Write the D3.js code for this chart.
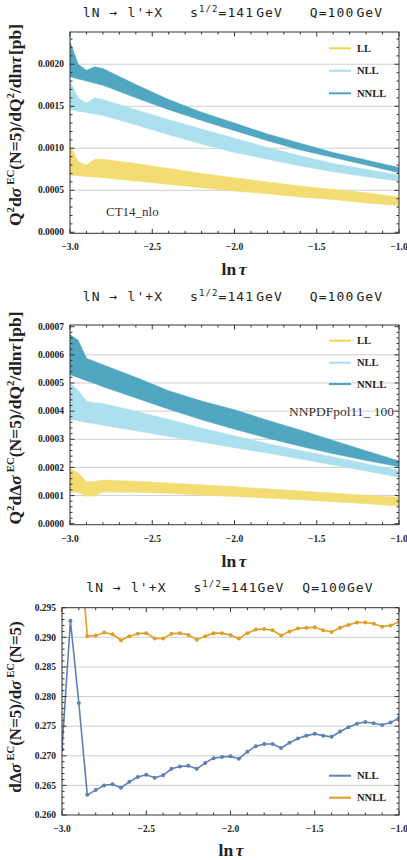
<!DOCTYPE html>
<html><head><meta charset="utf-8">
<script src="https://cdn.jsdelivr.net/npm/d3@7"></script>
<style>body{margin:0;background:#fff}svg{display:block}</style>
</head><body>
<script>
// ---------- data ----------
const xBand = [-3.0,-2.95,-2.9,-2.85,-2.8,-2.6,-2.4,-2.2,-2.0,-1.8,-1.6,-1.4,-1.2,-1.0];
// panel 1 (CT14_nlo)
const llLo1   = [0.00068,0.000672,0.000665,0.000657,0.00065,0.00061,0.00057,0.00053,0.00049,0.00046,0.00042,0.00039,0.00035,0.00032];
const llHi1   = [0.00104,0.00084,0.00080,0.00087,0.00087,0.00082,0.00076,0.00070,0.00065,0.00060,0.00055,0.00051,0.00047,0.00042];
const nllLo1  = [0.00146,0.001442,0.001425,0.001408,0.00139,0.00128,0.00116,0.00105,0.00095,0.00087,0.00079,0.00072,0.00066,0.00061];
const nllHi1  = [0.00180,0.00160,0.00154,0.00160,0.00158,0.00146,0.00134,0.00123,0.00112,0.00101,0.00091,0.00082,0.00075,0.00068];
const nnllLo1 = [0.00185,0.001825,0.0018,0.001775,0.00175,0.00160,0.00146,0.00133,0.00121,0.00109,0.00098,0.00089,0.00080,0.00071];
const nnllHi1 = [0.00227,0.00200,0.00193,0.00197,0.00195,0.00176,0.00158,0.00143,0.00130,0.00117,0.00106,0.00095,0.00086,0.00077];
// panel 2 (NNPDFpol11_100)
const llLo2   = [0.000113,0.000112,0.000098,0.000099,0.000113,0.000112,0.000108,0.000102,0.000097,0.000091,0.000085,0.000078,0.000071,0.000063];
const llHi2   = [0.000196,0.00018,0.000149,0.00015,0.000155,0.000151,0.000145,0.000138,0.000131,0.000124,0.000116,0.000109,0.000101,0.000094];
const nllLo2  = [0.00037,0.000365,0.00036,0.000355,0.00035,0.00033,0.00031,0.00029,0.00027,0.000251,0.00023,0.000209,0.000187,0.000165];
const nllHi2  = [0.0005,0.000474,0.000435,0.00043,0.000427,0.0004,0.00037,0.00034,0.000312,0.000285,0.00026,0.000237,0.000213,0.00019];
const nnllLo2 = [0.00053,0.000519,0.000508,0.000498,0.000487,0.000447,0.000407,0.000369,0.000336,0.000304,0.000275,0.000249,0.000225,0.000202];
const nnllHi2 = [0.000672,0.000652,0.000588,0.000576,0.000565,0.00052,0.000472,0.000436,0.000405,0.000368,0.000333,0.000296,0.000259,0.000223];
// panel 3 (ratio)
const xLine = [-3.0,-2.95,-2.9,-2.85,-2.8,-2.75,-2.7,-2.65,-2.6,-2.55,-2.5,-2.45,-2.4,-2.35,-2.3,-2.25,-2.2,-2.15,-2.1,-2.05,-2.0,-1.95,-1.9,-1.85,-1.8,-1.75,-1.7,-1.65,-1.6,-1.55,-1.5,-1.45,-1.4,-1.35,-1.3,-1.25,-1.2,-1.15,-1.1,-1.05,-1.0];
const nll3  = [0.2711,0.2928,0.2789,0.2634,0.2642,0.2650,0.2652,0.2646,0.2656,0.2664,0.2668,0.2663,0.2667,0.2678,0.2682,0.2683,0.2678,0.2688,0.2696,0.2698,0.2699,0.2695,0.2707,0.2716,0.2720,0.2720,0.2713,0.2722,0.2729,0.2734,0.2737,0.2734,0.2732,0.2741,0.2748,0.2754,0.2757,0.2755,0.2752,0.2756,0.2764];
const nnll3 = [0.335,0.325,0.3076,0.2902,0.2903,0.2908,0.2905,0.2895,0.2902,0.2906,0.2907,0.2898,0.2898,0.2906,0.2907,0.2904,0.2896,0.2902,0.2907,0.2907,0.2904,0.2898,0.2907,0.2913,0.2914,0.2912,0.2903,0.2910,0.2915,0.2916,0.2917,0.2912,0.2909,0.2916,0.2921,0.2925,0.2925,0.2923,0.2918,0.2920,0.2926];

const xTickVals = [-3.0,-2.5,-2.0,-1.5,-1.0];
const yTicks1 = [0,0.0005,0.0010,0.0015,0.0020];
const yTicks2 = [0,0.0001,0.0002,0.0003,0.0004,0.0005,0.0006,0.0007];
const yTicks3 = [0.260,0.265,0.270,0.275,0.280,0.285,0.290,0.295];
const bandNames = ["LL","NLL","NNLL"];
const lineNames = ["NLL","NNLL"];

// ---------- styles ----------
const bandFill = {LL:"#F3DC72", NLL:"#ADE0EE", NNLL:"#51A7C1"};
const bandLeg  = {LL:"#F5D452", NLL:"#A9DDEE", NNLL:"#4FA4BF"};
const lineCol  = {NLL:"#5E81B5", NNLL:"#E19C24"};
const SERIF = "'Liberation Serif','DejaVu Serif',serif";
const MONO = "'DejaVu Sans Mono',monospace";

const svg = d3.select("body").append("svg").attr("width",407).attr("height",860);

function rich(sel, parts, size){
  parts.forEach(p=>{
    const t = sel.append("tspan").text(p.t);
    if(p.it) t.attr("font-style","italic");
    if(p.sup){ t.attr("font-size", size*0.62).attr("dy", -size*0.42); }
    if(p.after){ t.attr("dy", size*0.42); }
    if(p.dx) t.attr("dx", p.dx);
  });
}
function supSeq(parts){
  const out=[];
  for(let i=0;i<parts.length;i++){
    const p = Object.assign({},parts[i]);
    if(i>0 && parts[i-1].sup && !p.sup) p.after=true;
    out.push(p);
  }
  return out;
}

function frame(g, x, y, gridVals, clipId){
  const [x0,x1]=x.range(); const [yb,yt]=y.range();
  g.append("g").selectAll("line").data(gridVals).join("line")
    .attr("x1",x0).attr("x2",x1).attr("y1",d=>y(d)).attr("y2",d=>y(d))
    .attr("stroke","#cfcfcf").attr("stroke-width",1);
  svg.append("defs").append("clipPath").attr("id",clipId).append("rect")
    .attr("x",x0).attr("y",yt).attr("width",x1-x0).attr("height",yb-yt);
}
function axes(g, x, y, yTicks, yMinorStep, fmtY){
  const [x0,x1]=x.range(); const [yb,yt]=y.range();
  const tc="#333";
  const ax = g.append("g");
  const xMin = d3.range(-3.0,-0.999,0.1).map(v=>+v.toFixed(2));
  xMin.forEach(v=>{
    const major = xTickVals.some(m=>Math.abs(m-v)<1e-6);
    const L = major?4.5:2.5;
    ax.append("line").attr("x1",x(v)).attr("x2",x(v)).attr("y1",yb).attr("y2",yb-L).attr("stroke",tc);
    ax.append("line").attr("x1",x(v)).attr("x2",x(v)).attr("y1",yt).attr("y2",yt+L).attr("stroke",tc);
  });
  const d1=y.domain()[1];
  const lo = yTicks[0];
  for(let k=0;;k++){
    const v = lo + k*yMinorStep;
    if(v>d1+1e-12) break;
    const major = yTicks.some(m=>Math.abs(m-v)<yMinorStep*0.01);
    const L = major?4.5:2.5;
    ax.append("line").attr("y1",y(v)).attr("y2",y(v)).attr("x1",x0).attr("x2",x0+L).attr("stroke",tc);
    ax.append("line").attr("y1",y(v)).attr("y2",y(v)).attr("x1",x1).attr("x2",x1-L).attr("stroke",tc);
  }
  ax.append("rect").attr("x",x0).attr("y",yt).attr("width",x1-x0).attr("height",yb-yt)
    .attr("fill","none").attr("stroke",tc).attr("stroke-width",1);
  ax.selectAll("text.xt").data(xTickVals).join("text")
    .attr("x",d=>x(d)).attr("y",yb+17).attr("text-anchor","middle")
    .attr("font-family",SERIF).attr("font-weight","bold").attr("font-size",9.5).attr("fill","#222")
    .text(d=>d3.format(".1f")(d).replace("-","\u2212"));
  ax.selectAll("text.yt").data(yTicks).join("text")
    .attr("x",x0-6).attr("y",d=>y(d)+3.2).attr("text-anchor","end")
    .attr("font-family",SERIF).attr("font-weight","bold").attr("font-size",9.5).attr("fill","#222")
    .text(d=>fmtY(d));
}
function title(g, cx, yb, spaced){
  const t = g.append("text").attr("x",cx).attr("y",yb).attr("text-anchor","middle")
    .attr("font-family",MONO).attr("font-size",13).attr("letter-spacing",1.1).attr("fill","#222")
    .attr("xml:space","preserve");
  t.append("tspan").text("lN \u2192 l'+X   s");
  t.append("tspan").text("1/2").attr("font-size",9).attr("dy",-5);
  t.append("tspan").text(spaced?"=141":"=141GeV").attr("dy",5);
  if(spaced) t.append("tspan").text("GeV").attr("dx",2);
  t.append("tspan").text(spaced?"   Q=100":"  Q=100GeV");
  if(spaced) t.append("tspan").text("GeV").attr("dx",2);
}
function xLabel(g, cx, yb){
  const t = g.append("text").attr("x",cx).attr("y",yb).attr("text-anchor","middle")
    .attr("font-family",SERIF).attr("font-weight","bold").attr("font-size",17.5).attr("fill","#222");
  t.append("tspan").text("ln");
  t.append("tspan").text("\u03C4").attr("font-style","italic").attr("dx",2.5);
}
function yLabel(g, cx, cy, parts, size){
  const t = g.append("text").attr("transform",`translate(${cx},${cy}) rotate(-90)`)
    .attr("text-anchor","middle").attr("font-family",SERIF).attr("font-weight","bold")
    .attr("font-size",size).attr("fill","#222");
  rich(t, supSeq(parts), size);
}
function bandLegend(g, xL, ys){
  bandNames.forEach((n,i)=>{
    g.append("line").attr("x1",xL).attr("x2",xL+22).attr("y1",ys[i]).attr("y2",ys[i])
      .attr("stroke",bandLeg[n]).attr("stroke-width",2);
    g.append("text").attr("x",xL+28).attr("y",ys[i]+3.5).text(n)
      .attr("font-family",SERIF).attr("font-weight","bold").attr("font-size",10.5).attr("fill","#222");
  });
}

function bandPanel(opt){
  const x = d3.scaleLinear().domain([-3,-1]).range([70,399]);
  const y = d3.scaleLinear().domain(opt.ydom).range([opt.yb,opt.yt]);
  const g = svg.append("g");
  frame(g,x,y,opt.grid,opt.clip);
  const area = d3.area().x(d=>x(d.x)).y0(d=>y(d.lo)).y1(d=>y(d.hi));
  const pg = g.append("g").attr("clip-path",`url(#${opt.clip})`);
  bandNames.forEach(n=>{
    const lo=opt.data[n][0], hi=opt.data[n][1];
    const pts = xBand.map((v,i)=>({x:v,lo:lo[i],hi:hi[i]}));
    pg.append("path").attr("d",area(pts)).attr("fill",bandFill[n]).attr("stroke",bandFill[n]).attr("stroke-width",0.5);
  });
  axes(g,x,y,opt.yTicks,opt.minor,opt.fmt);
  title(g,233,opt.titleY,true);
  xLabel(g,234,opt.xlabY);
  yLabel(g,21,opt.ylabCY,opt.ylab,17.5);
  bandLegend(g,329,opt.legY);
  return {g,x,y};
}

const p1 = bandPanel({
  ydom:[-0.000012,0.002384], yb:233.3, yt:32, yTicks:yTicks1, minor:0.0001,
  fmt:d3.format(".4f"), grid:[0.0005,0.0010,0.0015,0.0020], clip:"c1",
  data:{LL:[llLo1,llHi1],NLL:[nllLo1,nllHi1],NNLL:[nnllLo1,nnllHi1]},
  titleY:17, xlabY:275, ylabCY:125, legY:[48.3,70.7,93.3],
  ylab:[{t:"Q"},{t:"2",sup:true},{t:"d"},{t:"\u03C3",it:true},{t:"EC",sup:true,dx:3},{t:"(N=5)/dQ"},{t:"2",sup:true},{t:"/dln"},{t:"\u03C4",it:true},{t:"[pb]",dx:1}]
});
p1.g.append("text").attr("x",106).attr("y",216).text("CT14_nlo")
  .attr("font-family",SERIF).attr("font-size",13).attr("fill","#333");

const p2 = bandPanel({
  ydom:[-0.0000035,0.000706], yb:524.7, yt:325, yTicks:yTicks2, minor:0.00002,
  fmt:d3.format(".4f"), grid:[0.0001,0.0002,0.0003,0.0004,0.0005,0.0006], clip:"c2",
  data:{LL:[llLo2,llHi2],NLL:[nllLo2,nllHi2],NNLL:[nnllLo2,nnllHi2]},
  titleY:301, xlabY:567, ylabCY:418, legY:[340.7,362.7,384],
  ylab:[{t:"Q"},{t:"2",sup:true},{t:"d\u0394"},{t:"\u03C3",it:true},{t:"EC",sup:true,dx:3},{t:"(N=5)/dQ"},{t:"2",sup:true},{t:"/dln"},{t:"\u03C4",it:true},{t:"[pb]",dx:1}]
});
p2.g.append("text").attr("x",394).attr("y",416).attr("text-anchor","end").text("NNPDFpol11_ 100")
  .attr("font-family",SERIF).attr("font-size",13.5).attr("fill","#333").attr("xml:space","preserve");

// panel 3
(function(){
  const x = d3.scaleLinear().domain([-3,-1]).range([62,399]);
  const y = d3.scaleLinear().domain([0.260,0.295]).range([815,607.7]);
  const g = svg.append("g");
  frame(g,x,y,[0.265,0.270,0.275,0.280,0.285,0.290],"c3");
  const pg = g.append("g").attr("clip-path","url(#c3)");
  const line = d3.line().x(d=>x(d.x)).y(d=>y(d.v));
  [["NLL",nll3],["NNLL",nnll3]].forEach(([n,vals])=>{
    const pts = xLine.map((v,i)=>({x:v,v:vals[i]}));
    pg.append("path").attr("d",line(pts)).attr("fill","none").attr("stroke",lineCol[n]).attr("stroke-width",1.6);
    pg.selectAll(null).data(pts).join("circle").attr("cx",d=>x(d.x)).attr("cy",d=>y(d.v)).attr("r",2)
      .attr("fill",lineCol[n]);
  });
  axes(g,x,y,yTicks3,0.001,d3.format(".3f"));
  title(g,230,592,false);
  xLabel(g,231,856);
  yLabel(g,21,707,[{t:"d\u0394"},{t:"\u03C3",it:true},{t:"EC",sup:true,dx:3},{t:"(N=5)/d"},{t:"\u03C3",it:true},{t:"EC",sup:true,dx:3},{t:"(N=5)"}],17);
  [[lineNames[0],775.7],[lineNames[1],797.7]].forEach(([n,yy])=>{
    g.append("line").attr("x1",329).attr("x2",351).attr("y1",yy).attr("y2",yy)
      .attr("stroke",lineCol[n]).attr("stroke-width",2);
    g.append("text").attr("x",357).attr("y",yy+3.5).text(n)
      .attr("font-family",SERIF).attr("font-weight","bold").attr("font-size",10.5).attr("fill","#222");
  });
})();
</script>
</body></html>
